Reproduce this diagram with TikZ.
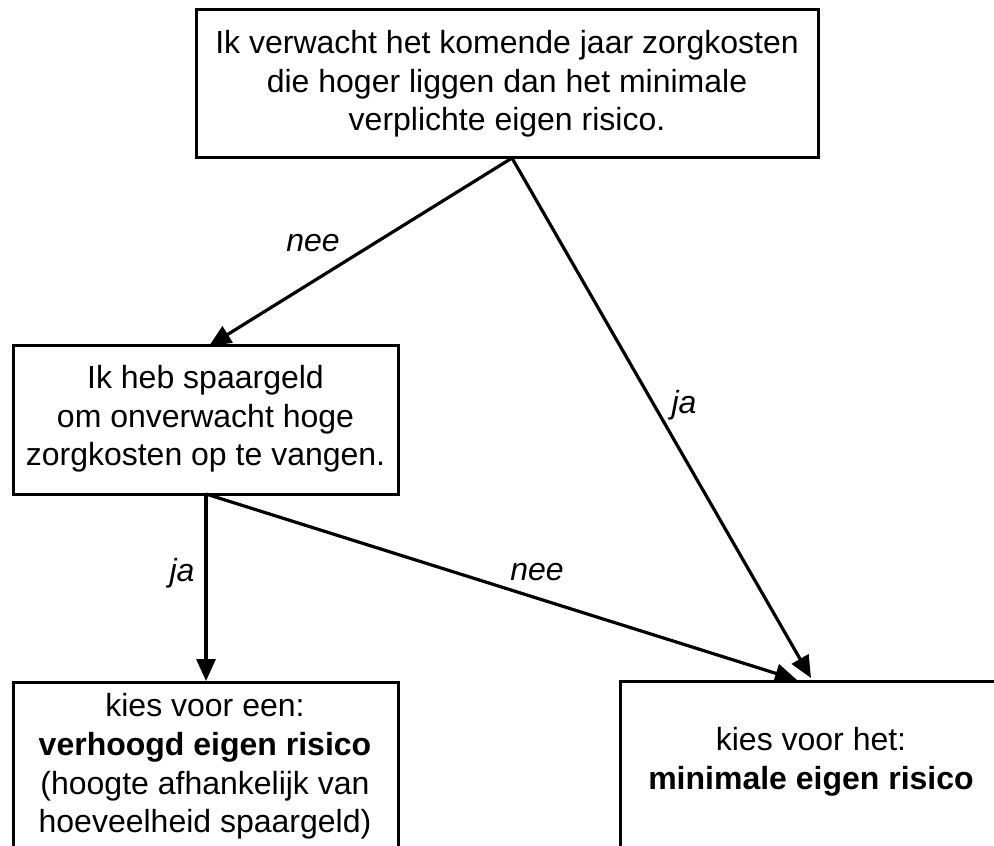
\documentclass[tikz,border=0pt]{standalone}
\usepackage{fontspec}
\setmainfont{Liberation Sans}
\usetikzlibrary{arrows.meta}
\begin{document}
\begin{tikzpicture}[x=0.5pt,y=-0.5pt,
  boxnode/.style={draw=black,line width=1.5pt,inner sep=0pt,rectangle},
  txt/.style={align=center,font=\fontsize{16}{19.3}\selectfont,inner sep=0pt},
  lbl/.style={font=\fontsize{16}{19.3}\selectfont\itshape,inner sep=0pt},
  conn/.style={line width=1.6pt,-{Triangle[length=11pt,width=9.5pt]}}]
\useasboundingbox (0,0) rectangle (994,845);
% boxes
\node[boxnode,minimum width=311pt,minimum height=74pt] (top) at (507,84) {};
\node[txt] (toptxt) at (507,84) {Ik verwacht het komende jaar zorgkosten\\die hoger liggen dan het minimale\\verplichte eigen risico.};
\node[boxnode,minimum width=192.5pt,minimum height=74.5pt] (mid) at (205.5,419.5) {};
\node[txt] (midtxt) at (205.5,419) {Ik heb spaargeld\\om onverwacht hoge\\zorgkosten op te vangen.};
\node[boxnode,minimum width=192.5pt,minimum height=100pt,anchor=north west] (bl) at (12,681) {};
\node[txt] (bltxt) at (205,766.5) {kies voor een:\\\textbf{verhoogd eigen risico}\\(hoogte afhankelijk van\\hoeveelheid spaargeld)};
\node[boxnode,minimum width=200pt,minimum height=100pt,anchor=north west] (br) at (619,680) {};
\node[txt] (brtxt) at (811,762) {kies voor het:\\\textbf{minimale eigen risico}};
% connector end points
\coordinate (s1) at (512,158);
\coordinate (e1) at (209,346);
\coordinate (e2) at (811,678);
\coordinate (s2) at (206,494);
\coordinate (e3) at (206,681);
\coordinate (e4) at (797,680);
% connectors
\draw[conn] (s1) -- (e1);
\draw[conn] (s1) -- (e2);
\draw[conn] (s2) -- (e3);
\draw[conn] (s2) -- (e4);
% labels
\node[lbl] (l1) at (313,243) {nee};
\node[lbl] (l2) at (684,405) {ja};
\node[lbl] (l3) at (182,573) {ja};
\node[lbl] (l4) at (537,572) {nee};
\end{tikzpicture}
\end{document}
